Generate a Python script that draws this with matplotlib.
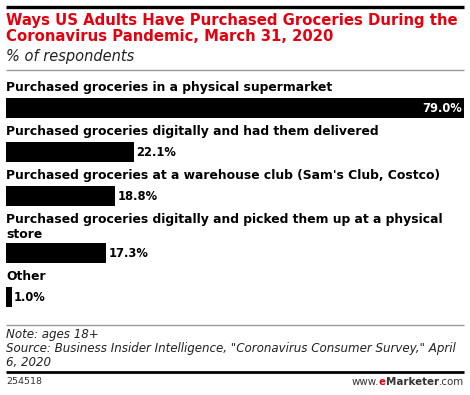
import matplotlib
matplotlib.use("Agg")
import matplotlib.pyplot as plt
from matplotlib.lines import Line2D

categories = [
    "Purchased groceries in a physical supermarket",
    "Purchased groceries digitally and had them delivered",
    "Purchased groceries at a warehouse club (Sam's Club, Costco)",
    "Purchased groceries digitally and picked them up at a physical\nstore",
    "Other",
]
values = [79.0, 22.1, 18.8, 17.3, 1.0]

title = "Ways US Adults Have Purchased Groceries During the\nCoronavirus Pandemic, March 31, 2020"
subtitle = "% of respondents"
note = ("Note: ages 18+\n"
        "Source: Business Insider Intelligence, \"Coronavirus Consumer Survey,\" April\n"
        "6, 2020")
chart_id = "254518"

W, H = 470, 395
RED = "#e3000f"
FONT = "DejaVu Sans"

fig = plt.figure(figsize=(W / 100, H / 100), dpi=100)
fig.patch.set_facecolor("white")

# overlay axes in pixel coordinates for text and rules
bg = fig.add_axes([0, 0, 1, 1])
bg.set_xlim(0, W)
bg.set_ylim(H, 0)
bg.axis("off")


def rule(y, color, lw):
    bg.add_line(Line2D([6, 464], [y, y], color=color, linewidth=lw,
                       solid_capstyle="butt"))


rule(6.5, "black", 2.4)
bg.text(6, 13, title, color=RED, fontsize=10.7, fontweight="bold",
        family=FONT, va="top", ha="left", linespacing=1.12)
bg.text(6, 49.5, subtitle, color="#222222", fontsize=10.5, style="italic",
        family=FONT, va="top", ha="left")
rule(70, "#999999", 1.0)

# bar axes: x in data units, y in pixels
ax = fig.add_axes([6 / W, 0, 458 / W, 1])
ax.set_xlim(0, max(values))
ax.set_ylim(H, 0)
ax.axis("off")

y = 88
for cat, val in zip(categories, values):
    n_lines = cat.count("\n") + 1
    bg.text(6, y - 6.5, cat, fontsize=8.9, fontweight="bold", family=FONT,
            va="top", ha="left", color="black", linespacing=1.1)
    top = y + 13 * (n_lines - 1) + 10
    ax.barh(top + 10, val, height=20, color="black")
    label = f"{val:.1f}%"
    if val > 50:
        ax.text(val - 0.4, top + 10.5, label, color="white", fontsize=8.3,
                fontweight="bold", family=FONT, va="center", ha="right")
    else:
        ax.text(val + 0.4, top + 10.5, label, color="black", fontsize=8.3,
                fontweight="bold", family=FONT, va="center", ha="left")
    y = top + 20 + 14

rule(325, "#999999", 1.0)
bg.text(6, 328, note, fontsize=8.6, style="italic", family=FONT,
        va="top", ha="left", color="#222222", linespacing=1.08)
rule(372, "black", 2.0)
bg.text(6, 382, chart_id, fontsize=6.8, family=FONT, va="center",
        ha="left", color="#333333")
bg.text(464, 382, ".com", fontsize=7.4, family=FONT, va="center",
        ha="right", color="#333333")
t = bg.annotate("Marketer", xy=(0, 0.5), xycoords=bg.texts[-1],
                ha="right", va="center", fontsize=7.4, fontweight="bold",
                family=FONT, color="#333333")
t2 = bg.annotate("e", xy=(0, 0.5), xycoords=t, ha="right", va="center",
                 fontsize=7.4, fontweight="bold", family=FONT, color=RED)
bg.annotate("www.", xy=(0, 0.5), xycoords=t2, ha="right", va="center",
            fontsize=7.4, family=FONT, color="#333333")

fig.savefig("out.png", dpi=100, facecolor="white")
